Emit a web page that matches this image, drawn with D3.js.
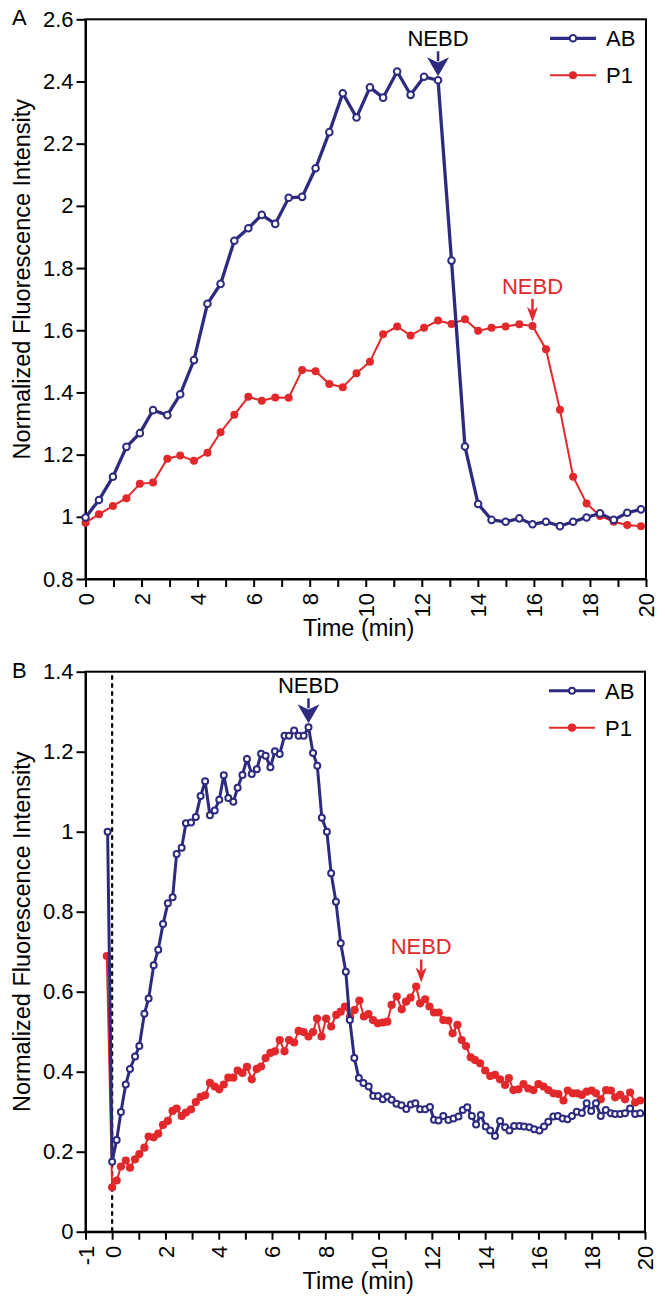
<!DOCTYPE html>
<html>
<head>
<meta charset="utf-8">
<script src="https://cdn.jsdelivr.net/npm/d3@7"></script>
<style>
	body{margin:0;background:#fff;}
	svg{display:block;font-family:"Liberation Sans",Arial,sans-serif;}
</style>
</head>
<body>
<div id="chart"></div>
<script>

// ---- panel A : values (time in min)
const timeA = [0,0.48,0.98,1.46,1.94,2.41,2.92,3.38,3.87,4.35,4.82,5.31,5.81,6.29,6.77,7.25,7.73,8.21,8.70,9.18,
	9.67,10.15,10.62,11.12,11.60,12.08,12.58,13.06,13.54,14.01,14.49,14.99,15.48,15.95,16.43,16.93,17.40,17.88,18.36,18.85,19.33,19.82];
const abA = [0.998,1.054,1.129,1.225,1.269,1.343,1.327,1.394,1.504,1.685,1.749,1.888,1.928,1.971,1.942,2.026,2.029,2.121,2.237,2.362,
	2.284,2.381,2.348,2.432,2.357,2.415,2.404,1.824,1.226,1.041,0.990,0.984,0.995,0.976,0.984,0.970,0.984,0.998,1.011,0.990,1.013,1.024];
const p1A = [0.981,1.008,1.035,1.060,1.106,1.110,1.187,1.197,1.180,1.206,1.272,1.328,1.386,1.373,1.384,1.383,1.472,1.468,1.427,1.417,
	1.462,1.499,1.587,1.612,1.583,1.608,1.631,1.620,1.635,1.598,1.608,1.612,1.619,1.614,1.539,1.344,1.129,1.043,1.003,0.984,0.974,0.970];
const yTicksA = [0.8,1,1.2,1.4,1.6,1.8,2,2.2,2.4,2.6];
const xTicksA = [0,1,2,3,4,5,6,7,8,9,10,11,12,13,14,15,16,17,18,19,20];
const xLabelsA = [0,2,4,6,8,10,12,14,16,18,20];
const nebdTimeA = [12.58,15.95];
const nebdValA = [2.404,1.614];

// ---- panel B
const timeB_ab = [-0.17,0,0.17,0.33,0.51,0.67,0.86,1.02,1.21,1.37,1.56,1.73,1.91,2.09,2.27,2.42,2.61,2.77,2.96,3.14,
	3.32,3.49,3.67,3.85,4.02,4.19,4.36,4.55,4.71,4.89,5.06,5.24,5.43,5.59,5.76,5.94,6.11,6.29,6.47,6.64,
	6.83,7.00,7.19,7.37,7.54,7.70,7.87,8.06,8.22,8.40,8.58,8.77,8.92,9.09,9.26,9.43,9.63,9.80,9.98,10.16,
	10.33,10.49,10.67,10.86,11.04,11.21,11.38,11.56,11.75,11.93,12.08,12.25,12.43,12.62,12.81,13.00,13.16,13.33,13.50,13.66,
	13.84,14.02,14.19,14.37,14.56,14.75,14.91,15.09,15.29,15.46,15.66,15.84,16.04,16.21,16.37,16.56,16.73,16.91,17.09,17.26,
	17.44,17.63,17.81,17.98,18.16,18.34,18.53,18.72,18.88,19.07,19.25,19.44,19.63,19.82];
const abB = [1.000,0.175,0.229,0.299,0.368,0.407,0.438,0.464,0.545,0.583,0.666,0.705,0.769,0.821,0.836,0.944,0.960,1.021,1.023,1.037,
	1.089,1.126,1.041,1.053,1.080,1.141,1.084,1.075,1.110,1.142,1.182,1.144,1.156,1.195,1.190,1.161,1.201,1.194,1.240,1.240,
	1.253,1.240,1.240,1.261,1.197,1.165,1.035,1.000,0.896,0.825,0.721,0.650,0.529,0.434,0.384,0.372,0.363,0.339,0.339,0.331,
	0.338,0.330,0.320,0.316,0.307,0.318,0.321,0.306,0.306,0.312,0.280,0.278,0.289,0.279,0.283,0.288,0.304,0.311,0.289,0.268,
	0.292,0.263,0.253,0.239,0.277,0.261,0.253,0.264,0.264,0.263,0.261,0.256,0.253,0.263,0.275,0.288,0.289,0.283,0.281,0.289,
	0.300,0.297,0.321,0.302,0.321,0.289,0.304,0.296,0.294,0.294,0.296,0.308,0.294,0.296];
const timeB_p1 = [-0.2,0,0.17,0.33,0.51,0.67,0.86,1.02,1.21,1.37,1.56,1.73,1.91,2.09,2.27,2.42,2.61,2.77,2.96,3.14,
	3.32,3.49,3.67,3.85,4.02,4.19,4.36,4.55,4.71,4.89,5.06,5.24,5.43,5.59,5.76,5.94,6.11,6.29,6.47,6.64,
	6.83,7.00,7.19,7.37,7.54,7.69,7.86,8.03,8.22,8.41,8.58,8.74,8.93,9.10,9.28,9.45,9.62,9.79,9.97,10.16,
	10.33,10.49,10.68,10.87,11.03,11.20,11.41,11.56,11.75,11.91,12.08,12.26,12.43,12.62,12.78,12.96,13.12,13.28,13.46,13.62,
	13.81,14.00,14.19,14.37,14.56,14.75,14.89,15.06,15.25,15.44,15.62,15.81,16.00,16.19,16.37,16.56,16.75,16.94,17.10,17.29,
	17.46,17.63,17.81,18.00,18.16,18.34,18.54,18.72,18.88,19.07,19.25,19.44,19.63,19.82];
const p1B = [0.689,0.111,0.128,0.163,0.178,0.160,0.181,0.194,0.210,0.238,0.236,0.245,0.267,0.277,0.302,0.308,0.289,0.298,0.306,0.324,
	0.337,0.341,0.372,0.363,0.356,0.368,0.385,0.385,0.403,0.397,0.412,0.381,0.407,0.413,0.434,0.447,0.451,0.479,0.451,0.479,
	0.473,0.502,0.499,0.488,0.499,0.533,0.488,0.533,0.513,0.542,0.550,0.563,0.538,0.554,0.578,0.538,0.544,0.529,0.521,0.523,
	0.525,0.567,0.588,0.556,0.575,0.585,0.613,0.571,0.581,0.563,0.548,0.548,0.529,0.528,0.496,0.517,0.479,0.464,0.436,0.429,
	0.421,0.403,0.389,0.392,0.381,0.367,0.384,0.354,0.356,0.369,0.358,0.354,0.369,0.363,0.354,0.346,0.344,0.328,0.353,0.346,
	0.346,0.342,0.350,0.353,0.346,0.331,0.354,0.353,0.336,0.342,0.331,0.348,0.323,0.328];
const yTicksB = [0,0.2,0.4,0.6,0.8,1,1.2,1.4];
const xTicksB = [-1,0,1,2,3,4,5,6,7,8,9,10,11,12,13,14,15,16,17,18,19,20];
const xLabelsB = [-1,0,2,4,6,8,10,12,14,16,18,20];
const nebdTimeB = [7.37,11.6];
const nebdValB = [1.261,0.613];

const seriesNames = ['AB','P1'];

////////////////////////////////////////////////////////////////////

const navy = '#2c2b7f';
const red = '#e2282a';

const svg = d3.select('#chart').append('svg')
	.attr('width', 665)
	.attr('height', 1298);

function panel(opt){

	const w = opt.w, h = opt.h;

	const plot = svg.append('g')
		.attr('class','plot')
		.attr('transform',`translate(${opt.l},${opt.t})`);

	const scaleX = d3.scaleLinear().domain(opt.xDomain).range([0,w]);
	const scaleY = d3.scaleLinear().domain(opt.yDomain).range([h,0]);

	// frame
	plot.append('rect')
		.attr('width', w)
		.attr('height', h)
		.attr('fill','none')
		.attr('stroke','#000')
		.attr('stroke-width',2);

	const axisY = d3.axisLeft()
		.scale(scaleY)
		.tickValues(opt.yTicks)
		.tickSize(9)
		.tickSizeOuter(0)
		.tickPadding(3)
		.tickFormat(d3.format('~g'));
	plot.append('g')
		.attr('class','axis axis-y')
		.call(axisY);

	const axisX = d3.axisBottom()
		.scale(scaleX)
		.tickValues(opt.xTicks)
		.tickSize(8)
		.tickSizeOuter(0)
		.tickFormat(function(d){return opt.xLabels.indexOf(d) >= 0 ? d : ''});
	const axisXNode = plot.append('g')
		.attr('class','axis axis-x')
		.attr('transform',`translate(0,${h})`)
		.call(axisX);
	axisXNode.selectAll('text')
		.attr('y', 0)
		.attr('x', -14)
		.attr('dy', '0.36em')
		.attr('transform', 'rotate(-90)')
		.style('text-anchor', 'end');

	plot.selectAll('.axis path, .axis line')
		.attr('stroke','#000')
		.attr('stroke-width',2);
	plot.selectAll('.axis text')
		.attr('fill','#000')
		.style('font-size','22px')
		.style('font-family','"Liberation Sans",Arial,sans-serif');

	// titles
	plot.append('text')
		.attr('x', w/2 - 7)
		.attr('y', h + 57)
		.attr('text-anchor','middle')
		.style('font-size','23.5px')
		.text('Time (min)');
	plot.append('text')
		.attr('transform',`translate(${30 - opt.l},${h/2 - 20}) rotate(-90)`)
		.attr('text-anchor','middle')
		.style('font-size','23.5px')
		.text('Normalized Fluorescence Intensity');
	plot.append('text')
		.attr('x', 12 - opt.l)
		.attr('y', 6)
		.style('font-size','22px')
		.text(opt.letter);

	// dashed zero line
	if(opt.zeroLine){
		plot.append('line')
			.attr('x1', scaleX(0)).attr('x2', scaleX(0))
			.attr('y1', scaleY(opt.yDomain[0])).attr('y2', scaleY(opt.yDomain[1]))
			.attr('stroke','#000')
			.attr('stroke-width',2.2)
			.attr('stroke-dasharray','4.5,3.5');
	}

	const line = d3.line()
		.x(function(d){return scaleX(d[0])})
		.y(function(d){return scaleY(d[1])});

	const p1 = d3.zip(opt.p1Time, opt.p1);
	const ab = d3.zip(opt.abTime, opt.ab);

	// P1 (drawn first, AB on top)
	plot.append('path')
		.datum(p1)
		.attr('d', line)
		.attr('fill','none')
		.attr('stroke', red)
		.attr('stroke-width', 2);
	plot.selectAll('.dot-p1')
		.data(p1)
		.enter()
		.append('circle')
		.attr('class','dot-p1')
		.attr('cx', function(d){return scaleX(d[0])})
		.attr('cy', function(d){return scaleY(d[1])})
		.attr('r', opt.rP1)
		.attr('fill', red);

	plot.append('path')
		.datum(ab)
		.attr('d', line)
		.attr('fill','none')
		.attr('stroke', navy)
		.attr('stroke-width', opt.abWidth);
	plot.selectAll('.dot-ab')
		.data(ab)
		.enter()
		.append('circle')
		.attr('class','dot-ab')
		.attr('cx', function(d){return scaleX(d[0])})
		.attr('cy', function(d){return scaleY(d[1])})
		.attr('r', opt.rAB)
		.attr('fill', '#fff')
		.attr('stroke', navy)
		.attr('stroke-width', 2);

	// NEBD arrows
	const arrows = [
		{c: navy, tc: '#000', hw: 11, hh: 19, stem: 6, gap: 4, txt: 5},
		{c: red, tc: red, hw: 5.5, hh: 15, stem: 8, gap: 4, txt: 5}
	];
	opt.nebdTime.forEach(function(t,i){
		const a = arrows[i];
		const x = scaleX(t);
		const tip = scaleY(opt.nebdVal[i]) - a.gap;
		const top = tip - a.hh;
		plot.append('line')
			.attr('x1', x).attr('x2', x)
			.attr('y1', top - a.stem).attr('y2', top + 4)
			.attr('stroke', a.c)
			.attr('stroke-width', 2.5);
		plot.append('path')
			.attr('d', `M${x - a.hw},${top} L${x},${top + a.hh*0.28} L${x + a.hw},${top} L${x},${tip} Z`)
			.attr('fill', a.c);
		plot.append('text')
			.attr('x', x)
			.attr('y', top - a.stem - a.txt)
			.attr('text-anchor','middle')
			.attr('fill', a.tc)
			.style('font-size','22px')
			.text('NEBD');
	});

	// legend
	const leg = plot.selectAll('.legend')
		.data(seriesNames)
		.enter()
		.append('g')
		.attr('class','legend')
		.attr('transform', function(d,i){return `translate(${w - 96},${19 + i*37})`});
	leg.append('line')
		.attr('x1', 0).attr('x2', 46)
		.attr('stroke', function(d,i){return i === 0 ? navy : red})
		.attr('stroke-width', function(d,i){return i === 0 ? opt.abWidth : 2});
	leg.append('circle')
		.attr('cx', 23)
		.attr('r', function(d,i){return i === 0 ? opt.rAB : opt.rP1})
		.attr('fill', function(d,i){return i === 0 ? '#fff' : red})
		.attr('stroke', function(d,i){return i === 0 ? navy : 'none'})
		.attr('stroke-width', 2);
	leg.append('text')
		.attr('x', 56)
		.attr('dy', '0.36em')
		.style('font-size','22px')
		.text(function(d){return d});
}

panel({
	l: 85.5, t: 19.3, w: 560.5, h: 559.7, letter: 'A',
	xDomain: [0,20], yDomain: [0.8,2.6],
	xTicks: xTicksA, xLabels: xLabelsA, yTicks: yTicksA,
	abTime: timeA, ab: abA, p1Time: timeA, p1: p1A,
	nebdTime: nebdTimeA, nebdVal: nebdValA,
	rAB: 3.3, rP1: 4, abWidth: 3.3, zeroLine: false
});

panel({
	l: 85.5, t: 671.7, w: 559.5, h: 560, letter: 'B',
	xDomain: [-1,20], yDomain: [0,1.4],
	xTicks: xTicksB, xLabels: xLabelsB, yTicks: yTicksB,
	abTime: timeB_ab, ab: abB, p1Time: timeB_p1, p1: p1B,
	nebdTime: nebdTimeB, nebdVal: nebdValB,
	rAB: 3, rP1: 4.1, abWidth: 3, zeroLine: true
});

</script>
</body>
</html>
